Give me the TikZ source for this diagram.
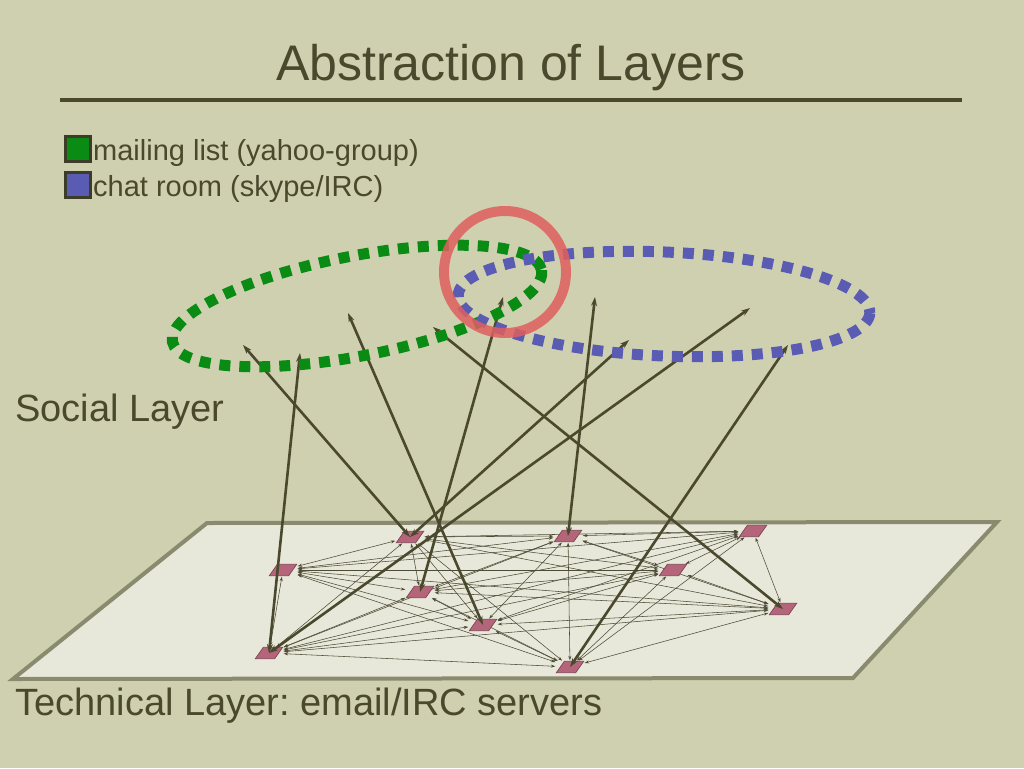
\documentclass[tikz,border=0pt]{standalone}
\usepackage{fontspec}
\setmainfont{Liberation Sans}
\frenchspacing
\usetikzlibrary{arrows.meta}
\pgfdeclarelayer{back}
\pgfdeclarelayer{mid}
\pgfsetlayers{back,mid,main}
\definecolor{bgc}{HTML}{CFD0B0}
\definecolor{txtc}{HTML}{4A482D}
\definecolor{planefill}{HTML}{E8E8DA}
\definecolor{planeedge}{HTML}{8A8A6E}
\definecolor{mlgreen}{HTML}{0A8C14}
\definecolor{chblue}{HTML}{5A5CB4}
\definecolor{ringred}{HTML}{E05F5F}
\definecolor{srvfill}{HTML}{B5657A}
\definecolor{srvedge}{HTML}{7D4556}
\definecolor{edgec}{HTML}{4D4B35}
\definecolor{boxedge}{HTML}{3C3C28}
\tikzset{
  txt/.style={inner sep=0pt, text=txtc},
  legbox/.style={draw=boxedge, line width=3pt, minimum width=25pt, minimum height=25pt, inner sep=0pt},
  server/.style={rectangle, minimum width=27pt, minimum height=11pt, inner sep=0pt,
     append after command={\pgfextra{%
       \draw[fill=srvfill, draw=srvedge, line width=0.7pt]
         (\tikzlastnode.south west) -- ([xshift=-8pt]\tikzlastnode.south east)
         -- (\tikzlastnode.north east) -- ([xshift=8pt]\tikzlastnode.north west) -- cycle;}}},
  netedge/.style={edgec, line width=0.55pt, {Stealth[length=4.5pt,width=3pt]}-{Stealth[length=4.5pt,width=3pt]}, shorten <=1pt, shorten >=1pt},
  link/.style={txtc, line width=2.6pt, {Stealth[length=9pt,width=6pt]}-{Stealth[length=9pt,width=6pt]}},
  greendash/.style={draw=mlgreen, line width=11pt, dash pattern=on 11pt off 9pt},
  bluedash/.style={draw=chblue, line width=11pt, dash pattern=on 11pt off 9pt},
  ring/.style={draw=ringred, line width=10pt, draw opacity=0.85}
}
\begin{document}
\begin{tikzpicture}[x=1pt,y=-1pt]
\useasboundingbox (0,0) rectangle (1024,768);
\begin{pgfonlayer}{back}
\fill[bgc] (0,0) rectangle (1024,768);
% technical plane
\draw[fill=planefill, draw=planeedge, line width=4pt, line join=miter]
  (207,523) -- (997,522) -- (853,678) -- (13,679) -- cycle;
\end{pgfonlayer}

% title
\node[txt, font=\fontsize{50}{60}\selectfont, anchor=base] (title) at (511,81) {Abstraction of Layers};
\draw[txtc, line width=4pt] (60,100) -- (962,100);

% legend
\node[legbox, fill=mlgreen] (lgreen) at (77.5,148.5) {};
\node[legbox, fill=chblue] (lblue) at (77.5,184.5) {};
\node[txt, font=\fontsize{29}{34}\selectfont, anchor=base west] (lgtext) at (93,160) {mailing list (yahoo-group)};
\node[txt, font=\fontsize{29}{34}\selectfont, anchor=base west] (lbtext) at (93,196) {chat room (skype/IRC)};

% layer labels
\node[txt, font=\fontsize{38}{44}\selectfont, anchor=base west] (social) at (15,421) {Social Layer};
\node[txt, font=\fontsize{38}{44}\selectfont, anchor=base west] (tech) at (15,715) {Technical Layer: email/IRC servers};

% servers
\node[server] (n1) at (410,537) {};
\node[server] (n2) at (568,536) {};
\node[server] (n3) at (753,531) {};
\node[server] (n4) at (283,570) {};
\node[server] (n5) at (673,570) {};
\node[server] (n6) at (420,592) {};
\node[server] (n7) at (483,625) {};
\node[server] (n8) at (783,609) {};
\node[server] (n9) at (269,653) {};
\node[server] (n10) at (570,667) {};

% full mesh between servers
\begin{pgfonlayer}{mid}
\foreach \i in {1,...,9}{
  \pgfmathtruncatemacro\k{\i+1}
  \foreach \j in {\k,...,10}{
    \draw[netedge] (n\i) -- (n\j);
  }
}
\end{pgfonlayer}

% social-layer endpoints
\coordinate (s1) at (243,345);
\coordinate (s2) at (300,353);
\coordinate (s3) at (348,313);
\coordinate (s4) at (433,327);
\coordinate (s5) at (503,297);
\coordinate (s6) at (595,297);
\coordinate (s7) at (629,340);
\coordinate (s8) at (750,308);
\coordinate (s9) at (788,345);

\draw[link] (s1) -- (n1.center);
\draw[link] (s2) -- (n9.center);
\draw[link] (s3) -- (n7.center);
\draw[link] (s4) -- (n8.center);
\draw[link] (s5) -- (n6.center);
\draw[link] (s6) -- (n2.center);
\draw[link] (s7) -- (n1.center);
\draw[link] (s8) -- (n9.center);
\draw[link] (s9) -- (n10.center);

% social groups
\draw[greendash, rotate around={11:(357,306)}] (357,306) ellipse [x radius=188, y radius=50];
\draw[bluedash, rotate around={-2.5:(664,304)}] (664,304) ellipse [x radius=206, y radius=52];
\draw[ring] (505,272) circle [radius=61];
\end{tikzpicture}
\end{document}
